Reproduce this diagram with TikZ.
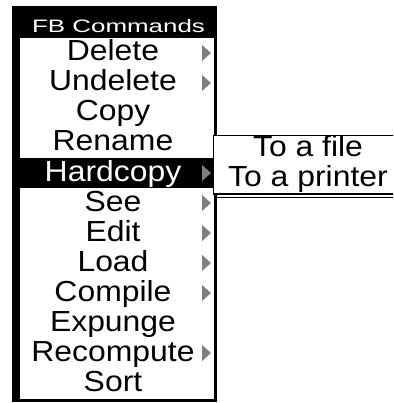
\documentclass[tikz,border=0pt]{standalone}
\usepackage{fontspec}
\setmainfont{Liberation Sans}[FakeStretch=1.1]
\newfontfamily\titlefont{Liberation Sans}[FakeStretch=1.44]
\begin{document}
\begin{tikzpicture}[x=1pt,y=-1pt,
        item/.style={anchor=base,inner sep=0pt,font=\fontsize{29}{30}\selectfont},
        more/.style={fill=gray}]
            \useasboundingbox (0,0) rectangle (393,403);
            \clip (0,0) rectangle (393,403);
            \fill (12,6) rectangle (217,402);
            \fill[white] (20,38) rectangle (214,399);
            \fill (20,158) rectangle (214,188);
            \node[anchor=base,inner sep=0pt,text=white,font=\titlefont\fontsize{18}{18}\selectfont] (titel) at (118.5,33) {FB Commands};
            \node[item] (delete) at (113,61) {Delete};
            \node[item] (undelete) at (113,91) {Undelete};
            \node[item] (copy) at (113,121) {Copy};
            \node[item] (rename) at (113,151) {Rename};
            \node[item,text=white] (hardcopy) at (113,181) {Hardcopy};
            \node[item] (see) at (113,211) {See};
            \node[item] (edit) at (113,241) {Edit};
            \node[item] (load) at (113,271) {Load};
            \node[item] (compile) at (113,301) {Compile};
            \node[item] (expunge) at (113,331) {Expunge};
            \node[item] (recompute) at (113,361) {Recompute};
            \node[item] (sort) at (113,391) {Sort};
            \fill[more] (202,45) -- (211,53) -- (202,61) -- cycle;
            \fill[more] (202,75) -- (211,83) -- (202,91) -- cycle;
            \fill[more] (202,165) -- (211,173) -- (202,181) -- cycle;
            \fill[more] (202,195) -- (211,203) -- (202,211) -- cycle;
            \fill[more] (202,225) -- (211,233) -- (202,241) -- cycle;
            \fill[more] (202,255) -- (211,263) -- (202,271) -- cycle;
            \fill[more] (202,285) -- (211,293) -- (202,301) -- cycle;
            \fill[more] (202,345) -- (211,353) -- (202,361) -- cycle;
            \draw[fill=white,line width=1.5pt] (213.5,135.5) rectangle (404,194);
            \draw[line width=1pt] (213.5,197.5) -- (404,197.5);
            \node[item] (file) at (308,157) {To a file};
            \node[item] (printer) at (308,186) {To a printer};
        \end{tikzpicture}
\end{document}
